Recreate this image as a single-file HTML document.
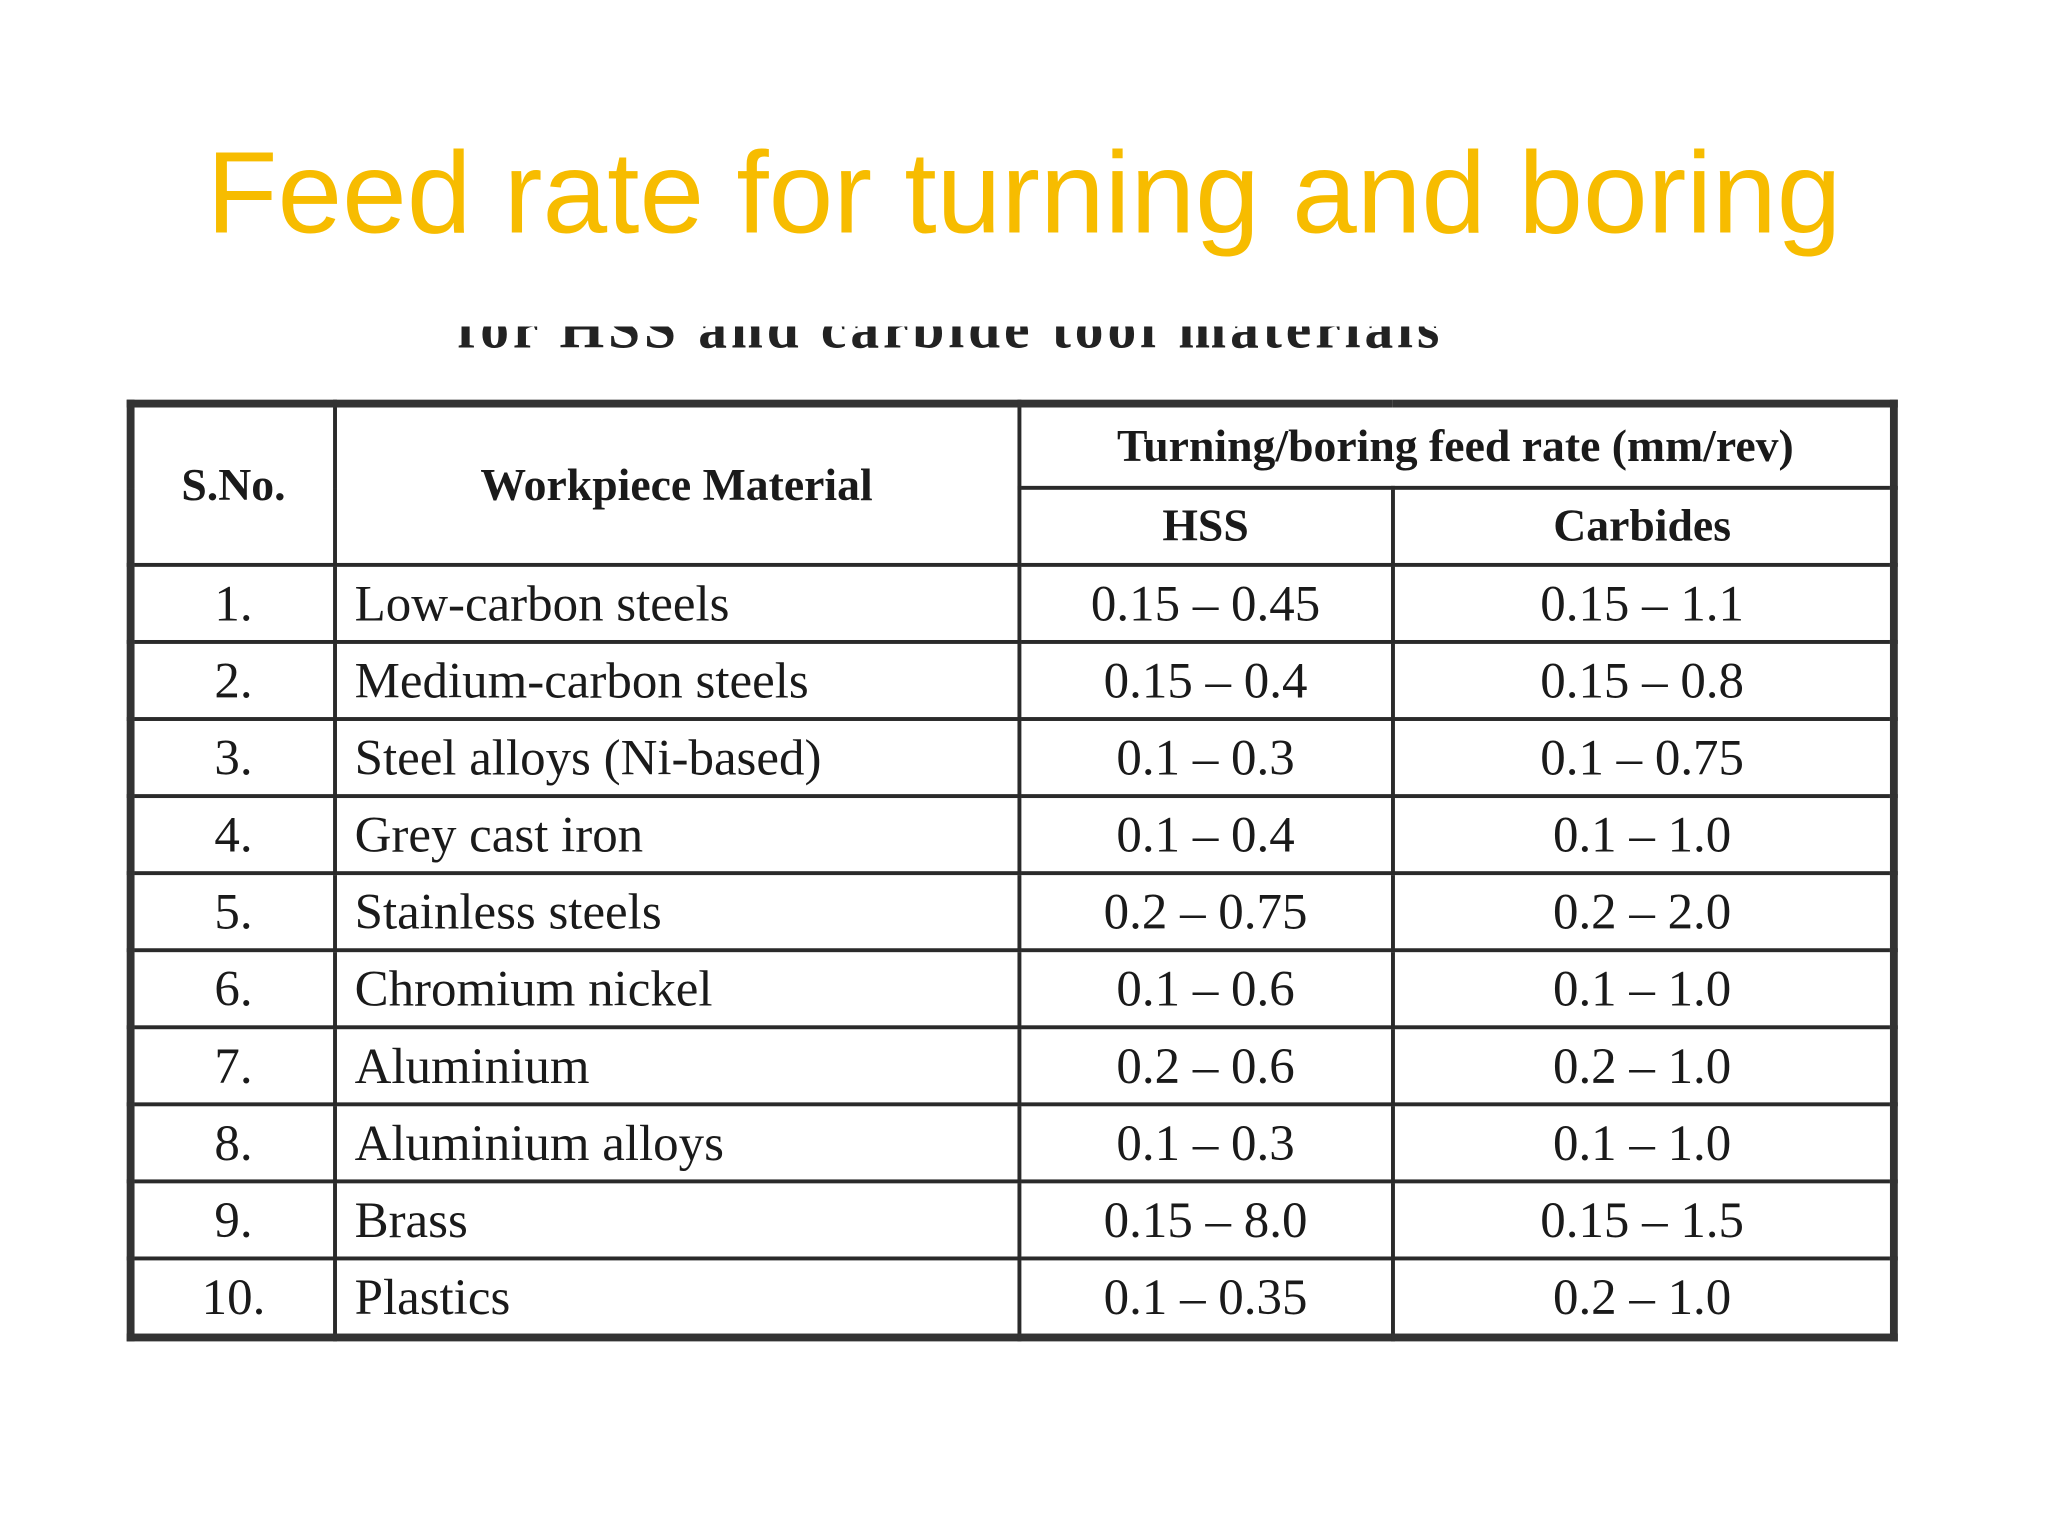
<!DOCTYPE html>
<html><head><meta charset="utf-8">
<style>
html,body{margin:0;padding:0;background:#fff;width:2048px;height:1536px;overflow:hidden}
#s{position:absolute;left:0;top:0;width:1568px;height:1176px;transform:scale(1.30612);transform-origin:0 0}
#title{position:absolute;left:0;width:1568px;top:96px;text-align:center;font-family:"Liberation Sans",sans-serif;font-size:89px;color:#F7BC00;white-space:nowrap}
#cap{position:absolute;left:350px;top:250px;width:830px;height:20px;overflow:hidden}
#cap span{position:absolute;left:0;top:-24px;font-family:"Liberation Serif",serif;font-weight:bold;font-size:44px;color:#222;white-space:nowrap;letter-spacing:3px}
table{position:absolute;left:97px;top:306px;width:1350px;table-layout:fixed;border-collapse:collapse;border:6px solid #333;font-family:"Liberation Serif",serif;color:#1a1a1a;background:#fff}
td{border:3px solid #2a2a2a;font-size:39px;height:56px;padding:0;white-space:nowrap;overflow:hidden}
.h{font-weight:bold;font-size:35px;text-align:center}
.n{text-align:center}
.m{padding-left:14px}
.v{text-align:center}
.c{text-align:center}
</style></head><body>
<div id="s">
<div id="title">Feed rate for turning and boring</div>
<div id="cap"><span>for HSS and carbide tool materials</span></div>
<table>
<colgroup><col style="width:156px"><col style="width:524px"><col style="width:286px"><col style="width:384px"></colgroup>
<tr><td class="h n" rowspan="2" style="height:116px">S.No.</td>
<td class="h m" rowspan="2" style="text-align:center;padding:0">Workpiece Material</td>
<td class="h" colspan="2" style="height:60px">Turning/boring feed rate (mm/rev)</td></tr>
<tr><td class="h v" style="height:54px">HSS</td><td class="h c">Carbides</td></tr>
<tr><td class="n">1.</td><td class="m">Low-carbon steels</td><td class="v">0.15 – 0.45</td><td class="c">0.15 – 1.1</td></tr>
<tr><td class="n">2.</td><td class="m">Medium-carbon steels</td><td class="v">0.15 – 0.4</td><td class="c">0.15 – 0.8</td></tr>
<tr><td class="n">3.</td><td class="m">Steel alloys (Ni-based)</td><td class="v">0.1 – 0.3</td><td class="c">0.1 – 0.75</td></tr>
<tr><td class="n">4.</td><td class="m">Grey cast iron</td><td class="v">0.1 – 0.4</td><td class="c">0.1 – 1.0</td></tr>
<tr><td class="n">5.</td><td class="m">Stainless steels</td><td class="v">0.2 – 0.75</td><td class="c">0.2 – 2.0</td></tr>
<tr><td class="n">6.</td><td class="m">Chromium nickel</td><td class="v">0.1 – 0.6</td><td class="c">0.1 – 1.0</td></tr>
<tr><td class="n">7.</td><td class="m">Aluminium</td><td class="v">0.2 – 0.6</td><td class="c">0.2 – 1.0</td></tr>
<tr><td class="n">8.</td><td class="m">Aluminium alloys</td><td class="v">0.1 – 0.3</td><td class="c">0.1 – 1.0</td></tr>
<tr><td class="n">9.</td><td class="m">Brass</td><td class="v">0.15 – 8.0</td><td class="c">0.15 – 1.5</td></tr>
<tr><td class="n">10.</td><td class="m">Plastics</td><td class="v">0.1 – 0.35</td><td class="c">0.2 – 1.0</td></tr>
</table>
</div>
</body></html>
